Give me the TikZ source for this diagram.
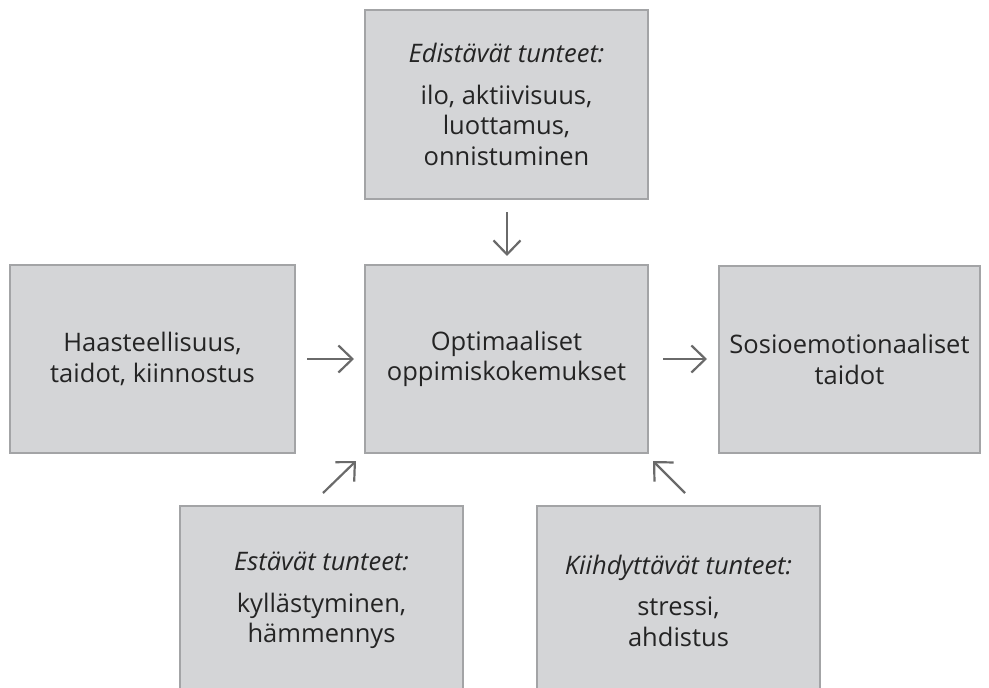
\documentclass[tikz,border=0pt]{standalone}
\usepackage{fontspec}
\setmainfont{Open Sans}
\usetikzlibrary{arrows.meta}
\definecolor{boxfill}{HTML}{D4D5D7}
\definecolor{boxline}{HTML}{A3A4A6}
\definecolor{txt}{HTML}{242424}
\definecolor{arr}{HTML}{6A6A6A}
\tikzset{
  box/.style={draw=boxline, fill=boxfill, line width=1.2pt, inner sep=0pt,
    align=center, text=txt, font=\fontsize{25.5}{30.5}\selectfont},
  conn/.style={draw=arr, line width=2.2pt,
    -{Straight Barb[length=14pt,width=27pt,line width=2.2pt]}}
}
\begin{document}
\begin{tikzpicture}[x=1pt,y=-1pt]
\useasboundingbox (0,0) rectangle (989,688);
\node[box, minimum width=283pt, minimum height=189pt] (top) at (506.5,104.5)
  {\textit{Edistävät tunteet:}\\[11pt] ilo, aktiivisuus,\\ luottamus,\\ onnistuminen};
\node[box, minimum width=283pt, minimum height=188pt] (mid) at (506.5,359)
  {Optimaaliset\\ oppimiskokemukset};
\node[box, minimum width=285pt, minimum height=188pt] (left) at (152.5,359)
  {Haasteellisuus,\\ taidot, kiinnostus};
\node[box, minimum width=261pt, minimum height=187pt] (right) at (849.5,359.5)
  {Sosioemotionaaliset\\ taidot};
\node[box, minimum width=283pt, minimum height=189pt] (bl) at (321.5,600.5)
  {\textit{Estävät tunteet:}\\[11pt] kyllästyminen,\\ hämmennys};
\node[box, minimum width=283pt, minimum height=189pt] (br) at (678.5,600.5)
  {\textit{Kiihdyttävät tunteet:}\\[11pt] stressi,\\ ahdistus};
\coordinate (t1) at (507,212);
\coordinate (t2) at (507,256);
\draw[conn] (t1) -- (t2);
\coordinate (l1) at (307,359);
\coordinate (l2) at (354,359);
\draw[conn] (l1) -- (l2);
\coordinate (r1) at (663,359);
\coordinate (r2) at (707,359);
\draw[conn] (r1) -- (r2);
\coordinate (a1) at (323,493);
\coordinate (a2) at (356,461);
\draw[conn] (a1) -- (a2);
\coordinate (b1) at (685,493);
\coordinate (b2) at (653,461);
\draw[conn] (b1) -- (b2);
\end{tikzpicture}
\end{document}
